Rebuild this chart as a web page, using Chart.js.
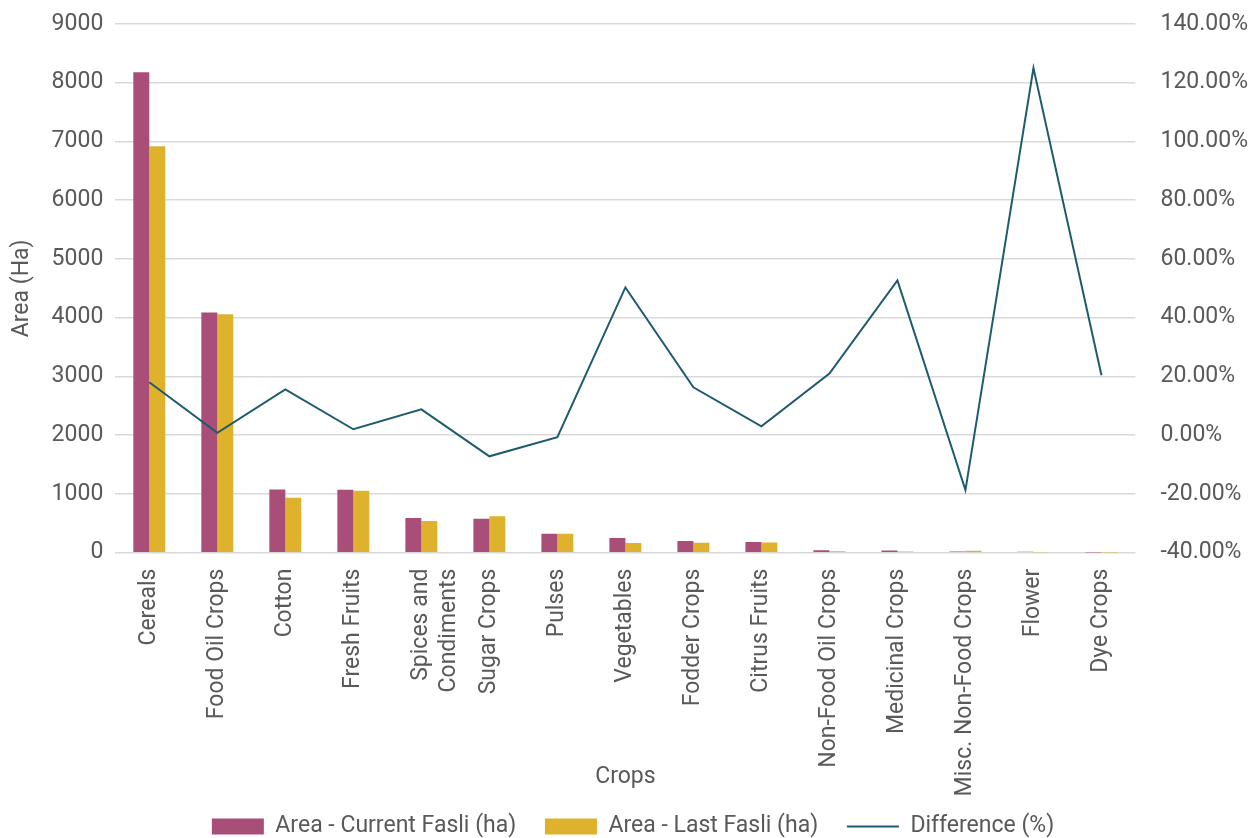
<!DOCTYPE html>
<html>
<head>
<meta charset="utf-8">
<script src="https://cdn.jsdelivr.net/npm/chart.js@4/dist/chart.umd.min.js"></script>
<style>
  body { margin: 0; background: #fff; }
</style>
</head>
<body>
<canvas id="cropChart" width="1260" height="838"></canvas>
<script>
// Data
const crops = ['Cereals', 'Food Oil Crops', 'Cotton', 'Fresh Fruits', ['Spices and', 'Condiments'], 'Sugar Crops', 'Pulses', 'Vegetables', 'Fodder Crops', 'Citrus Fruits', 'Non-Food Oil Crops', 'Medicinal Crops', 'Misc. Non-Food Crops', 'Flower', 'Dye Crops'];
const areaCurrent = [8180, 4090, 1075, 1070, 590, 575, 320, 250, 200, 180, 40, 35, 20, 15, 3];
const areaLast = [6920, 4060, 935, 1055, 540, 620, 320, 165, 170, 172, 25, 20, 30, 5, 2];
const differencePct = [18.0, 0.8, 15.6, 2.0, 8.8, -7.2, -0.7, 50.3, 16.3, 3.0, 21.0, 52.7, -18.7, 125.0, 20.4];

const textColor = '#595959';
const gridColor = '#d9d9d9';
Chart.defaults.font.family = 'Roboto, "Noto Sans", sans-serif';
Chart.defaults.font.size = 23;
Chart.defaults.color = textColor;

const defaultLegendLabels = Chart.defaults.plugins.legend.labels.generateLabels;

const ctx = document.getElementById('cropChart').getContext('2d');
const cropChart = new Chart(ctx, {
    type: 'bar',
    data: {
        labels: crops,
        datasets: [
            { label: 'Area - Current Fasli (ha)', data: areaCurrent, backgroundColor: '#a84e78', yAxisID: 'y', order: 1, pointStyle: 'rect', categoryPercentage: 0.47, barPercentage: 1.0 },
            { label: 'Area - Last Fasli (ha)', data: areaLast, backgroundColor: '#dfb22e', yAxisID: 'y', order: 1, pointStyle: 'rect', categoryPercentage: 0.47, barPercentage: 1.0 },
            { type: 'line', label: 'Difference (%)', data: differencePct, borderColor: '#1f5b6e', backgroundColor: '#1f5b6e', borderWidth: 2, pointRadius: 0, tension: 0, yAxisID: 'y1', order: 0, pointStyle: 'line' }
        ]
    },
    options: {
        responsive: false,
        animation: false,
        layout: { padding: { left: 16, right: 10, top: 24, bottom: -10 } },
        plugins: {
            tooltip: { enabled: false },
            legend: {
                position: 'bottom',
                labels: {
                    usePointStyle: true,
                    pointStyleWidth: 52,
                    boxHeight: 16,
                    padding: 17,
                    color: textColor,
                    sort: (a, b) => a.datasetIndex - b.datasetIndex,
                    // extra gap after the first two entries
                    generateLabels: chart => defaultLegendLabels(chart).map(item => {
                        if (item.datasetIndex < 2) item.text += '\u2002';
                        return item;
                    })
                }
            }
        },
        scales: {
            x: {
                grid: { display: false },
                border: { display: false },
                ticks: { minRotation: 90, maxRotation: 90, autoSkip: false, padding: 8 },
                title: { display: true, text: 'Crops', padding: { top: -41, bottom: 7 } }
            },
            y: {
                position: 'left',
                min: 0, max: 9000,
                ticks: { stepSize: 1000, padding: 2, callback: v => String(v) },
                grid: { color: gridColor, lineWidth: 1.5, drawTicks: true, tickLength: 10, tickColor: 'rgba(0,0,0,0)' },
                border: { display: false },
                title: { display: true, text: 'Area (Ha)', padding: { top: -8, bottom: 14 } }
            },
            y1: {
                position: 'right',
                min: -40, max: 140,
                ticks: { stepSize: 20, padding: 2, callback: v => v.toFixed(2) + '%' },
                grid: { display: false, drawTicks: true, tickLength: 23 },
                border: { display: false }
            }
        }
    }
});
</script>
</body>
</html>
